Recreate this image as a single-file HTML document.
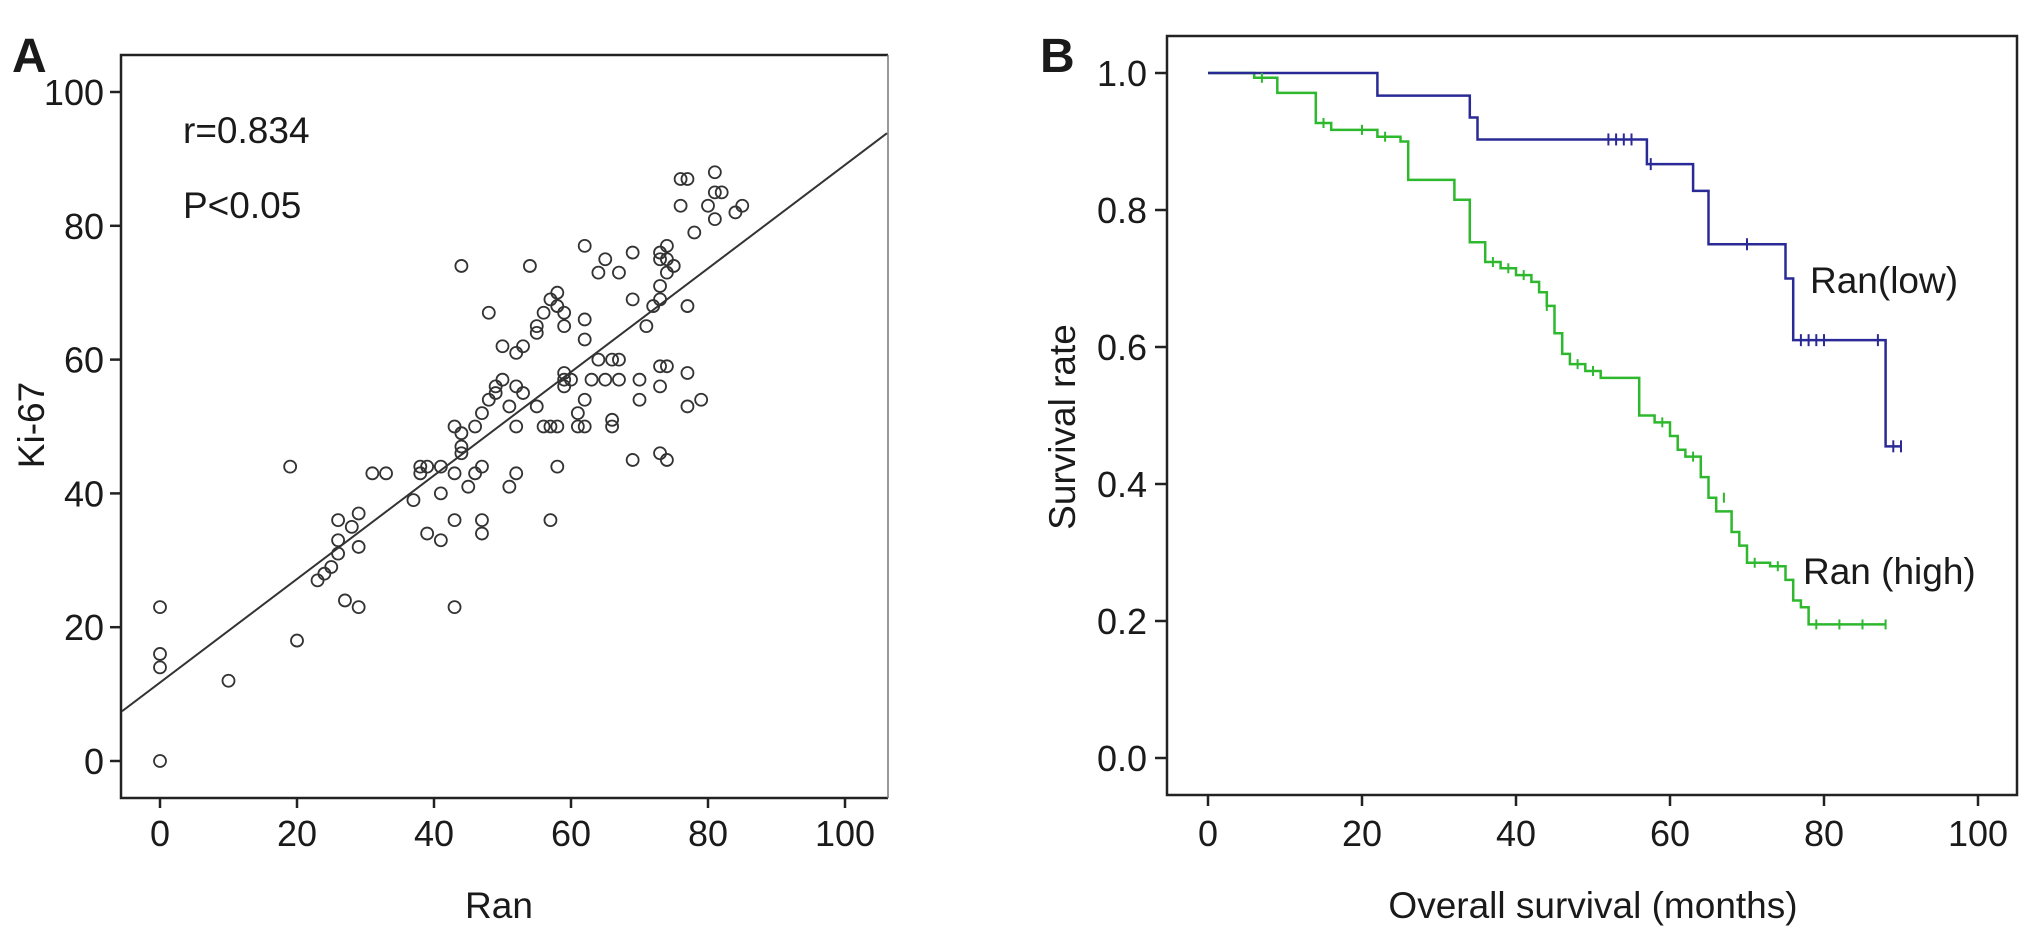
<!DOCTYPE html>
<html><head><meta charset="utf-8"><style>
html,body{margin:0;padding:0;background:#fff;}
svg text{font-family:"Liberation Sans",sans-serif;fill:#1a1a1a;}
</style></head><body>
<svg id="fig" width="2031" height="943" viewBox="0 0 2031 943" xmlns="http://www.w3.org/2000/svg">
<g id="pa"></g>
<g id="pb"></g>
</svg>
<script>
// Panel A data
const ranVals=[0,0,0,0,10,20,19,23,24,25,26,26,26,27,28,29,29,29,31,33,37,38,38,39,39,41,41,41,43,43,43,43,44,44,44,44,45,46,46,47,47,47,47,48,48,49,49,50,50,51,51,52,52,52,52,53,53,54,55,55,55,56,56,57,57,57,58,58,58,58,59,59,59,59,59,60,61,61,62,62,62,62,62,63,64,64,65,65,66,66,66,67,67,67,69,69,69,70,70,71,72,73,73,73,73,73,73,73,74,74,74,74,74,75,76,76,77,77,77,77,78,79,80,81,81,81,82,84,85];
const ki67Vals=[0,14,16,23,12,18,44,27,28,29,31,33,36,24,35,37,32,23,43,43,39,43,44,44,34,33,40,44,43,36,23,50,49,47,46,74,41,43,50,44,36,34,52,54,67,56,55,57,62,53,41,43,50,56,61,55,62,74,64,65,53,67,50,69,50,36,70,68,50,44,67,65,58,57,56,57,52,50,63,66,77,54,50,57,60,73,75,57,51,50,60,73,60,57,76,69,45,57,54,65,68,76,75,71,69,59,56,46,77,75,73,59,45,74,87,83,87,68,58,53,79,54,83,88,85,81,85,82,83];
const xTicksA=[0,20,40,60,80,100];
const yTicksA=[0,20,40,60,80,100];
const fitIntercept=11.7, fitSlope=0.775;
// Panel B data
const lowT=[0,22,34,35,57,63,65,75,76,88,90];
const lowS=[1.0,0.967,0.935,0.903,0.867,0.828,0.75,0.70,0.61,0.455,0.455];
const lowCensT=[52,53,54,55,57.5,70,77,78,79,80,87,89,90];
const lowCensS=[0.903,0.903,0.903,0.903,0.867,0.75,0.61,0.61,0.61,0.61,0.61,0.455,0.455];
const highT=[0,6,9,14,16,22,25,26,32,34,36,38,40,42,43,44,45,46,47,49,51,56,58,60,61,62,64,65,66,68,69,70,73,75,76,77,78,88];
const highS=[1.0,0.993,0.971,0.927,0.917,0.907,0.90,0.844,0.815,0.753,0.724,0.715,0.705,0.695,0.68,0.66,0.62,0.59,0.575,0.565,0.555,0.50,0.49,0.47,0.45,0.44,0.41,0.38,0.36,0.33,0.31,0.285,0.28,0.26,0.23,0.22,0.195,0.195];
const highCensT=[7,15,20,23,37,39,41,44,48,50,59,63,67,71,74,79,82,85,88];
const highCensS=[0.993,0.927,0.917,0.907,0.724,0.715,0.705,0.66,0.575,0.565,0.49,0.44,0.38,0.285,0.28,0.195,0.195,0.195,0.195];
const xTicksB=[0,20,40,60,80,100];
const yTicksB=[0,0.2,0.4,0.6,0.8,1.0];

const NS="http://www.w3.org/2000/svg";
function mk(parent,tag,attrs){const e=document.createElementNS(NS,tag);for(const k in attrs)e.setAttribute(k,attrs[k]);parent.appendChild(e);return e;}
const pa=document.getElementById('pa'), pb=document.getElementById('pb');
const xA=v=>160+v*6.85, yA=v=>761-v*6.69;
const xB=v=>1208+v*7.7, yB=v=>758-v*685;

let e;
e=mk(pa,'path',{d:'M888,55 H121 V798 H888',fill:'none',stroke:'#222','stroke-width':2.5});


e=mk(pa,'line',{x1:888,y1:55,x2:888,y2:798,stroke:'#777','stroke-width':1.5});


xTicksA.forEach(t=>{
  e=mk(pa,'line',{x1:xA(t),x2:xA(t),y1:798,y2:808,stroke:'#222','stroke-width':2.5});
  
  
  e=mk(pa,'text',{x:xA(t),y:846,'font-size':36,'text-anchor':'middle'});e.textContent=t;
  
  
});
yTicksA.forEach(t=>{
  e=mk(pa,'line',{x1:110,x2:121,y1:yA(t),y2:yA(t),stroke:'#222','stroke-width':2.5});
  
  
  e=mk(pa,'text',{x:104,y:yA(t)+13,'font-size':36,'text-anchor':'end'});e.textContent=t;
  
  
});
e=mk(pa,'line',{x1:122,y1:yA(fitIntercept+fitSlope*(-5.5)),x2:887,y2:yA(fitIntercept+fitSlope*106),stroke:'#333','stroke-width':2});


ranVals.forEach((r,i)=>{
  e=mk(pa,'circle',{cx:xA(r),cy:yA(ki67Vals[i]),r:6,fill:'none',stroke:'#333','stroke-width':1.8});
  
  
});
[['A',12,72,'panel-label-a'],['r=0.834',183,143,'correlation-text'],['P<0.05',183,218,'p-value-text'],['Ran',499,918,'x-axis-title']].forEach(([t,x,y,n],i)=>{
  e=mk(pa,'text',{x:x,y:y,'font-size':i==0?48:37,'font-weight':i==0?'bold':'normal','text-anchor':i==3?'middle':'start'});e.textContent=t;
  
  
});
e=mk(pa,'text',{x:0,y:0,'font-size':37,'text-anchor':'middle',transform:'translate(44,425) rotate(-90)'});e.textContent='Ki-67';



// Panel B
e=mk(pb,'rect',{x:1167,y:36,width:850,height:759,fill:'none',stroke:'#222','stroke-width':2.5});


xTicksB.forEach(t=>{
  e=mk(pb,'line',{x1:xB(t),x2:xB(t),y1:795,y2:806,stroke:'#222','stroke-width':2.5});
  
  
  e=mk(pb,'text',{x:xB(t),y:846,'font-size':36,'text-anchor':'middle'});e.textContent=t;
  
  
});
yTicksB.forEach(t=>{
  e=mk(pb,'line',{x1:1155,x2:1167,y1:yB(t),y2:yB(t),stroke:'#222','stroke-width':2.5});
  
  
  e=mk(pb,'text',{x:1147,y:yB(t)+13,'font-size':36,'text-anchor':'end'});e.textContent=t.toFixed(1);
  
  
});
function stepPath(T,S){let d='M'+xB(T[0])+','+yB(S[0]);for(let i=1;i<T.length;i++){d+=' H'+xB(T[i])+' V'+yB(S[i]);}return d;}
e=mk(pb,'path',{d:stepPath(highT,highS),fill:'none',stroke:'#2eb82e','stroke-width':2.5});


e=mk(pb,'path',{d:stepPath(lowT,lowS),fill:'none',stroke:'#2a2a96','stroke-width':2.5});


highCensT.forEach((t,i)=>{
  e=mk(pb,'line',{x1:xB(t),x2:xB(t),y1:yB(highCensS[i])-5,y2:yB(highCensS[i])+5,stroke:'#2eb82e','stroke-width':2});
  
  
});
lowCensT.forEach((t,i)=>{
  e=mk(pb,'line',{x1:xB(t),x2:xB(t),y1:yB(lowCensS[i])-6,y2:yB(lowCensS[i])+6,stroke:'#2a2a96','stroke-width':2});
  
  
});
[['B',1040,72,'panel-label-b'],['Ran(low)',1810,293,'ran-low-label'],['Ran (high)',1803,584,'ran-high-label'],['Overall  survival (months)',1593,918,'x-axis-title']].forEach(([t,x,y,n],i)=>{
  e=mk(pb,'text',{x:x,y:y,'font-size':i==0?48:37,'font-weight':i==0?'bold':'normal','text-anchor':i==3?'middle':'start'});e.textContent=t;
  
  
});
e=mk(pb,'text',{x:0,y:0,'font-size':37,'text-anchor':'middle',transform:'translate(1075,427) rotate(-90)'});e.textContent='Survival rate';


</script>
</body></html>
